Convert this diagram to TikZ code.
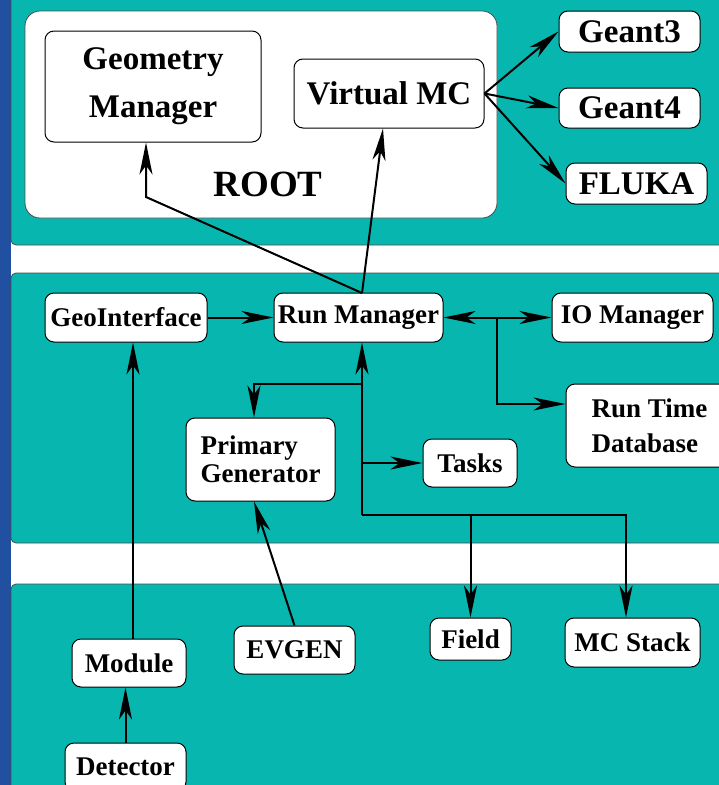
\documentclass[tikz,border=0pt]{standalone}
\usepackage{fontspec}
\setmainfont{Liberation Serif}
\usetikzlibrary{arrows.meta}
\usetikzlibrary{positioning}

\definecolor{tealbg}{RGB}{8,182,176}
\definecolor{stripblue}{RGB}{34,80,160}

\tikzset{tip/.tip={Stealth[length=32pt,width=13pt,inset=9pt]}}

\begin{document}
\begin{tikzpicture}[x=1pt,y=-1pt,
	box/.style={draw,fill=white,rounded corners=9,line width=1pt,inner sep=0pt,font=\bfseries\fontsize{27}{35}\selectfont},
	bigbox/.style={box,font=\bfseries\fontsize{33}{48}\selectfont},
	panel/.style={fill=tealbg,draw=black!70,line width=0.8pt,rounded corners=5},
	arr/.style={line width=2pt,-tip}]

	\useasboundingbox (0,0) rectangle (719,785);
	\clip (0,0) rectangle (719,785);

	% background
	\fill[white] (0,0) rectangle (719,785);
	\fill[stripblue] (0,0) rectangle (11,785);
	\filldraw[panel] (11,-10) rectangle (735,245);
	\filldraw[panel] (11,273) rectangle (735,543);
	\filldraw[panel] (11,584) rectangle (735,800);
	\filldraw[fill=white,draw=black!70,line width=0.8pt,rounded corners=15] (25,11) rectangle (497,218);

	% ROOT
	\node[bigbox,minimum width=216,minimum height=111,align=center] (geom) at (153,86.5) {Geometry\\Manager};
	\node[bigbox,minimum width=190,minimum height=69] (vmc) at (389,93.5) {Virtual MC};
	\node[font=\bfseries\fontsize{37}{40}\selectfont] (root) at (268,184) {ROOT};

	\node[bigbox,minimum width=141,minimum height=41] (g3) at (629.5,31.5) {Geant3};
	\node[bigbox,minimum width=141,minimum height=40] (g4) at (629.5,108) {Geant4};
	\node[bigbox,minimum width=141,minimum height=41] (fluka) at (636.5,183.5) {FLUKA};

	% run control
	\node[box,minimum width=162,minimum height=49] (geoif) at (126,317.5) {GeoInterface};
	\node[box,minimum width=169,minimum height=49] (runmgr) at (358.5,317.5) {Run Manager};
	\node[box,minimum width=161,minimum height=49] (iomgr) at (632.5,317.5) {IO Manager};
	\node[box,minimum width=167,minimum height=83,align=left] (rtdb) at (649.5,425.5) {Run Time\\Database};
	\node[box,minimum width=94,minimum height=48] (tasks) at (470,463) {Tasks};
	\node[box,minimum width=149,minimum height=83,align=left,font=\bfseries\fontsize{27}{28}\selectfont] (primgen) at (260.5,459.5) {Primary\\Generator};

	% bottom row
	\node[box,minimum width=81,minimum height=42] (field) at (470.5,639) {Field};
	\node[box,minimum width=135,minimum height=49] (mcstack) at (632.5,642.5) {MC Stack};
	\node[box,minimum width=121,minimum height=48] (evgen) at (294.5,650) {EVGEN};
	\node[box,minimum width=114,minimum height=48] (module) at (129,663) {Module};
	\node[box,minimum width=121,minimum height=48] (detector) at (125.5,767) {Detector};

	% bends
	\coordinate (rmtop) at (362,293);
	\coordinate (gbend) at (146,197);
	\coordinate (busS) at (362,515);
	\coordinate (pgbend) at (254,384);
	\coordinate (dbj) at (497,404);
	\coordinate (mcb) at (626,515);

	\draw[arr] (rmtop) -- (gbend) -- (gbend |- geom.south);
	\draw[arr] (rmtop) -- ([xshift=-6]vmc.south);
	\draw[arr] (vmc.east) -- (g3.west);
	\draw[arr] (vmc.east) -- (g4.west);
	\draw[arr] (vmc.east) -- (fluka.west);

	\draw[arr] (geoif.east) -- (runmgr.west);
	\draw[arr,tip-tip] (runmgr.east) -- (iomgr.west);
	\draw[arr] (runmgr.east -| dbj) -- (dbj) -- (dbj -| rtdb.west);
	\draw[arr] (busS) -- (busS |- runmgr.south);
	\draw[arr] (pgbend -| busS) -- (pgbend) -- (pgbend |- primgen.north);
	\draw[arr] (tasks.west -| busS) -- (tasks.west);
	\draw[arr] (busS) -- (mcb) -- (mcb |- mcstack.north);
	\draw[arr] (field.north |- busS) -- (field.north);
	\draw[arr] (evgen.north) -- (pgbend |- primgen.south);
	\draw[arr] ([xshift=4]module.north) -- ([xshift=4]module.north |- geoif.south);
	\draw[arr] (detector.north) -- (detector.north |- module.south);
\end{tikzpicture}
\end{document}
